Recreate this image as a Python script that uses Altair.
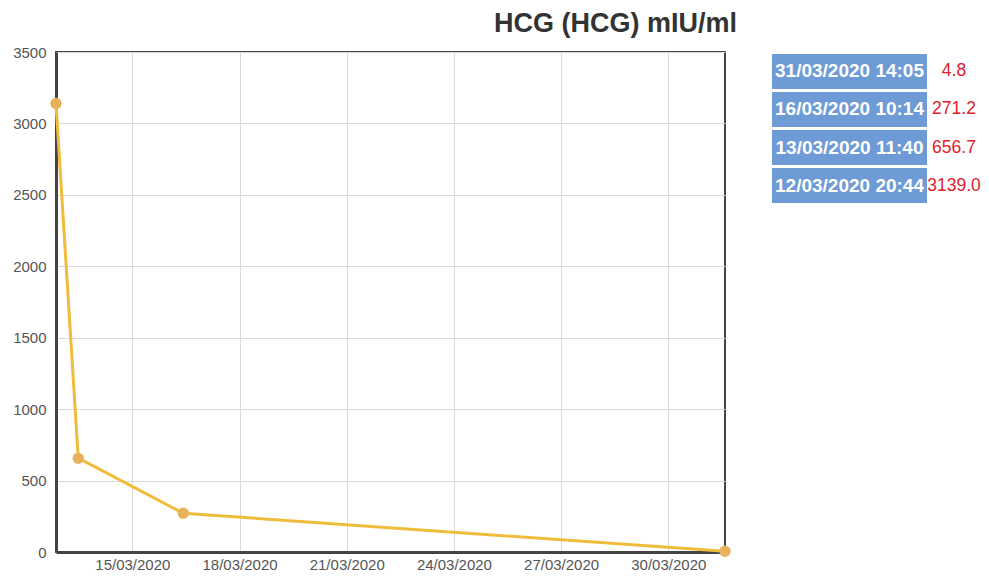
import altair as alt
import pandas as pd

# Series
times = ["2020-03-12 20:44", "2020-03-13 11:40", "2020-03-16 10:14", "2020-03-31 14:05"]
values = [3139.0, 656.7, 271.2, 4.8]

# Side table (newest first)
table_labels = ["31/03/2020 14:05", "16/03/2020 10:14", "13/03/2020 11:40", "12/03/2020 20:44"]
table_values = ["4.8", "271.2", "656.7", "3139.0"]

# Axis ticks
tick_days = [15, 18, 21, 24, 27, 30]
y_ticks = [0, 500, 1000, 1500, 2000, 2500, 3000, 3500]

title_text = "HCG (HCG) mIU/ml"

df = pd.DataFrame({"t": times, "v": values})
tdf = pd.DataFrame({"label": table_labels, "val": table_values})

FONT = "Liberation Sans"

x_enc = alt.X(
    "t:T",
    scale=alt.Scale(domain=[times[0], times[-1]], nice=False),
    axis=alt.Axis(
        values=[alt.DateTime(year=2020, month=3, date=d) for d in tick_days],
        format="%d/%m/%Y",
        title=None,
        tickSize=0,
        labelPadding=5,
        labelFontSize=15,
        labelColor="#555555",
        labelFont=FONT,
        gridColor="#d8d8de",
        domainColor="#444444",
        domainWidth=3,
    ),
)
y_enc = alt.Y(
    "v:Q",
    scale=alt.Scale(domain=[0, 3500], nice=False),
    axis=alt.Axis(
        values=y_ticks,
        format="d",
        title=None,
        tickSize=0,
        labelPadding=10,
        labelFontSize=15,
        labelColor="#555555",
        labelFont=FONT,
        gridColor="#d8d8de",
        domainColor="#444444",
        domainWidth=3,
    ),
)

base = alt.Chart(df)
line = base.mark_line(color="#F0BC3C", strokeWidth=3, clip=False).encode(x=x_enc, y=y_enc)
pts = base.mark_circle(color="#E8B25A", opacity=1, size=130, clip=False).encode(x="t:T", y="v:Q")
series = alt.layer(line, pts)

yrow = alt.Y(
    "label:N", sort=table_labels, axis=None,
    scale=alt.Scale(range=[0, 153], paddingInner=0.08, paddingOuter=0.05),
)
tbase = alt.Chart(tdf)
boxes = tbase.mark_rect(color="#6E9AD6", clip=False).encode(
    y=yrow, x=alt.value(716), x2=alt.value(871)
)
labels = tbase.mark_text(
    color="white", fontWeight="bold", fontSize=19, font=FONT,
    align="center", baseline="middle", clip=False,
).encode(y=yrow, x=alt.value(793.5), text="label:N")
vals = tbase.mark_text(
    color="#E0202A", fontSize=17.5, font=FONT,
    align="center", baseline="middle", clip=False,
).encode(y=yrow, x=alt.value(898), text="val:N")
table = alt.layer(boxes, labels, vals)

chart = (
    alt.layer(series, table)
    .resolve_scale(y="independent")
    .properties(
        width=669,
        height=500,
        autosize=alt.AutoSizeParams(type="none"),
        padding={"left": 48, "top": 44, "right": 256, "bottom": 19},
        title=alt.TitleParams(
            title_text, anchor="end", frame="group", dx=12, fontSize=27, fontWeight="bold",
            font=FONT, color="#333333", offset=7,
        ),
    )
    .configure_view(stroke="#444444", strokeWidth=2)
)

chart.save("out.html", embed_options={"renderer": "svg", "actions": False})
